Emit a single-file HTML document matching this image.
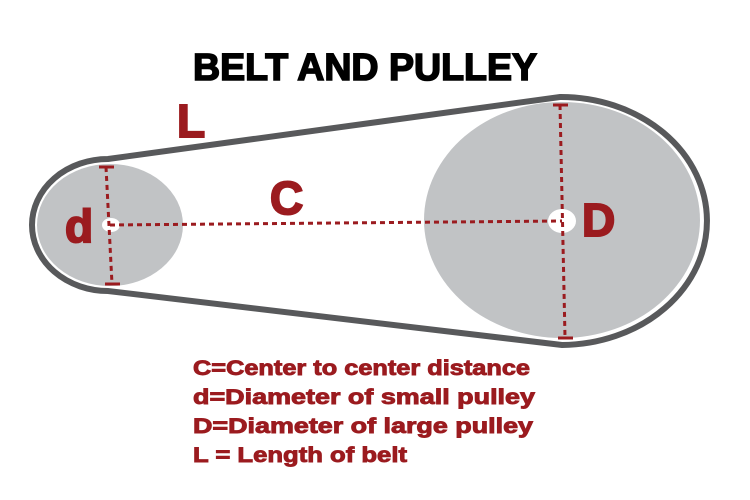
<!DOCTYPE html>
<html><head><meta charset="utf-8"><style>
html,body{margin:0;padding:0;background:#fff;}
svg{display:block;}
</style></head><body>
<svg width="750" height="500" viewBox="0 0 750 500" xmlns="http://www.w3.org/2000/svg">
<rect width="750" height="500" fill="#fff"/>
<text x="193" y="80" font-family="Liberation Sans, sans-serif" font-weight="bold" font-size="38" textLength="344" lengthAdjust="spacingAndGlyphs" fill="#000" stroke="#000" stroke-width="1.6">BELT AND PULLEY</text>
<path d="M 108 159 L 560 97 A 146 124 0 0 1 562 345 L 108 291 A 76 66 0 0 1 108 159 Z" fill="none" stroke="#58595b" stroke-width="6"/>
<ellipse cx="110" cy="225" rx="73" ry="61" fill="#c1c3c5"/>
<ellipse cx="562" cy="220" rx="138" ry="118" fill="#c1c3c5"/>
<ellipse cx="111" cy="225" rx="9" ry="7" fill="#fff"/>
<ellipse cx="562" cy="221" rx="14" ry="12" fill="#fff"/>
<g stroke="#9b1b1f" stroke-width="3" stroke-dasharray="5,4" fill="none">
<line x1="110" y1="225" x2="562" y2="221"/>
<line x1="106" y1="167" x2="112" y2="284"/>
<line x1="560" y1="105" x2="565" y2="337"/>
</g>
<g stroke="#9b1b1f" stroke-width="3">
<line x1="99" y1="167" x2="114" y2="167"/>
<line x1="105" y1="284" x2="120" y2="284"/>
<line x1="553" y1="105" x2="568" y2="105"/>
<line x1="558" y1="338" x2="573" y2="338"/>
</g>
<g font-family="Liberation Sans, sans-serif" font-weight="bold" fill="#9b1b1f" stroke="#9b1b1f">
<text x="177" y="137" font-size="46" stroke-width="2">L</text>
<text x="270" y="214" font-size="46" stroke-width="2">C</text>
<text x="65" y="242" font-size="46" stroke-width="2">d</text>
<text x="582" y="236" font-size="46" stroke-width="2">D</text>
<g stroke-width="0.9">
<text x="193" y="375" font-size="21" textLength="337" lengthAdjust="spacingAndGlyphs">C=Center to center distance</text>
<text x="193" y="404" font-size="21" textLength="342" lengthAdjust="spacingAndGlyphs">d=Diameter of small pulley</text>
<text x="193" y="433" font-size="21" textLength="340" lengthAdjust="spacingAndGlyphs">D=Diameter of large pulley</text>
<text x="193" y="462" font-size="21" textLength="214" lengthAdjust="spacingAndGlyphs">L = Length of belt</text>
</g>
</g>
</svg>
</body></html>
